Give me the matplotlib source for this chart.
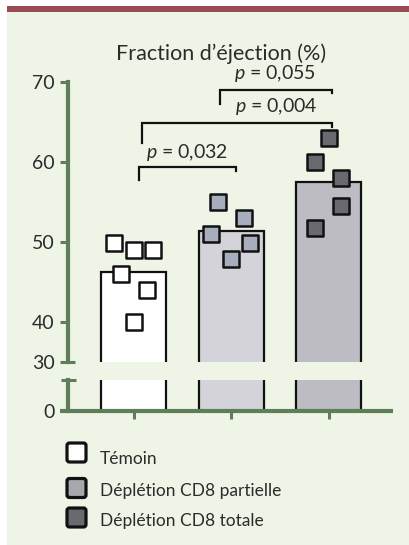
import matplotlib
matplotlib.use("Agg")
import matplotlib.pyplot as plt
from matplotlib.patches import Rectangle, FancyBboxPatch
from matplotlib.markers import MarkerStyle
import numpy as np

# ---------------- data ----------------
groups = ["Témoin", "Déplétion CD8 partielle", "Déplétion CD8 totale"]
bar_means = [46.25, 51.4, 57.5]
g1_vals = [49.9, 49.0, 49.0, 46.0, 44.0, 40.0]
g1_xoff = [-0.197, 0.0, 0.20, -0.131, 0.135, 0.0]
g2_vals = [55.0, 53.0, 51.0, 49.9, 47.9]
g2_xoff = [-0.133, 0.13, -0.202, 0.195, 0.0]
g3_vals = [63.0, 60.0, 58.0, 54.5, 51.7]
g3_xoff = [0.0, -0.135, 0.131, 0.131, -0.135]
p_labels = ["0,032", "0,004", "0,055"]
comparisons = [(0, 1), (0, 2), (1, 2)]
ytick_pos = [35, 40, 50, 60, 70]
ytick_labels = ["30", "40", "50", "60", "70"]
title = "Fraction d’éjection (%)"

# ---------------- style ----------------
FONT = ["Lato", "DejaVu Sans"]
plt.rcParams["font.family"] = FONT
plt.rcParams["mathtext.fontset"] = "custom"
plt.rcParams["mathtext.it"] = "Lato:italic"
plt.rcParams["mathtext.rm"] = "Lato"
TXT = "#2b2b2b"
AXC = "#5f7d59"
BG = "#eef5e6"
MAROON = "#9a4a55"
bar_fill = ["#ffffff", "#d3d3d9", "#bcbcc2"]
pt_fill = ["#ffffff", "#a8adbd", "#696a70"]
legend_fill = ["#ffffff", "#a5a8ad", "#676a6e"]

W, H = 410, 545
fig = plt.figure(figsize=(W / 100, H / 100), dpi=100)
fig.patch.set_facecolor("white")

# overlay in pixel coords (background, legend)
ov = fig.add_axes([0, 0, 1, 1])
ov.set_xlim(0, W)
ov.set_ylim(H, 0)
ov.axis("off")
ov.set_zorder(-1)
ov.add_patch(Rectangle((7, 12), W - 7, H - 12, facecolor=BG, edgecolor="none"))
ov.add_patch(Rectangle((7, 6), W - 7, 6, facecolor=MAROON, edgecolor="none"))

# axes geometry
left_px, right_px = 68, 393
ax_w = (right_px - left_px) / W
top_ax = fig.add_axes([left_px / W, (H - 362) / H, ax_w, 280 / H])
bot_ax = fig.add_axes([left_px / W, (H - 411) / H, ax_w, 31 / H])

x = np.arange(len(groups))
xmin = (left_px - 133.5) / 97.5
xmax = (right_px - 133.5) / 97.5
bw = 65 / 97.5

for ax in (top_ax, bot_ax):
    ax.set_facecolor("none")
    ax.set_xlim(xmin, xmax)
    ax.bar(x, bar_means, width=bw, color=bar_fill, edgecolor="#111111",
           linewidth=1.6, zorder=2)
    for s in ("top", "right", "bottom"):
        ax.spines[s].set_visible(False)
    ax.spines["left"].set_color(AXC)
    ax.spines["left"].set_linewidth(3.0)

top_ax.set_ylim(35, 70)
top_ax.set_yticks(ytick_pos)
top_ax.set_yticklabels(ytick_labels)
top_ax.tick_params(axis="y", direction="out", length=6, width=2.2, color=AXC,
                   labelsize=14, labelcolor=TXT, pad=3.5)
top_ax.set_xticks([])

# break caps
top_ax.add_line(plt.Line2D([0, 7 / 325], [0, 0], transform=top_ax.transAxes,
                           color=AXC, lw=2.2, clip_on=False, solid_capstyle="butt"))

bot_ax.set_ylim(0, 1)
bot_ax.set_yticks([0])
bot_ax.set_yticklabels(["0"])
bot_ax.tick_params(axis="y", length=0, labelsize=14, labelcolor=TXT, pad=9.5)
bot_ax.set_xticks(x)
bot_ax.set_xticklabels([])
bot_ax.tick_params(axis="x", direction="out", length=6, width=2.2, color=AXC)
bot_ax.add_line(plt.Line2D([-7 / 325, 8 / 325], [1, 1], transform=bot_ax.transAxes,
                           color=AXC, lw=2.2, clip_on=False, solid_capstyle="butt"))
bot_ax.add_line(plt.Line2D([-8 / 325, 1], [0, 0], transform=bot_ax.transAxes,
                           color=AXC, lw=3.0, clip_on=False, solid_capstyle="butt"))

# points
ms = MarkerStyle("s", joinstyle="round")
for i, (vals, offs) in enumerate([(g1_vals, g1_xoff), (g2_vals, g2_xoff), (g3_vals, g3_xoff)]):
    top_ax.plot(i + np.array(offs), vals, linestyle="none", marker=ms,
                markersize=11.6, markerfacecolor=pt_fill[i],
                markeredgecolor="#111111", markeredgewidth=1.8, zorder=4,
                clip_on=False)

# significance brackets (horizontal level, left leg end, right leg end)
br_x = [(0.056, 1.051), (0.087, 2.036), (0.887, 2.036)]
br_y = [(59.375, 57.75, 58.875), (64.91, 62.375, 64.375), (69.0, 67.25, 68.625)]
txt_pos = [(0.554, 60.5), (1.467, 66.3), (1.451, 70.35)]
for (xa, xb), (yh, yl, yr), (tx, ty), lab in zip(br_x, br_y, txt_pos, p_labels):
    top_ax.plot([xa, xa, xb, xb], [yl, yh, yh, yr], color="#111111", lw=1.6,
                clip_on=False, zorder=3, solid_joinstyle="miter")
    top_ax.text(tx, ty, r"$\mathit{p}$ = " + lab, ha="center", va="baseline",
                fontsize=14, color=TXT, clip_on=False)

# title
fig.text(221.5 / W, (H - 60) / H, title, ha="center", va="baseline",
         fontsize=15.5, color=TXT)

# legend
leg_y = [452.5, 488, 517.5]
leg_base = [464, 496, 526]
for i, name in enumerate(groups):
    ov.add_patch(FancyBboxPatch((67, leg_y[i] - 9.5), 19, 19,
                                boxstyle="round,pad=0,rounding_size=2.5",
                                facecolor=legend_fill[i], edgecolor="#111111",
                                linewidth=2.3))
    ov.text(100, leg_base[i], name, ha="left", va="baseline", fontsize=12.5,
            color=TXT)

fig.savefig("out.png", dpi=100, facecolor=fig.get_facecolor())
